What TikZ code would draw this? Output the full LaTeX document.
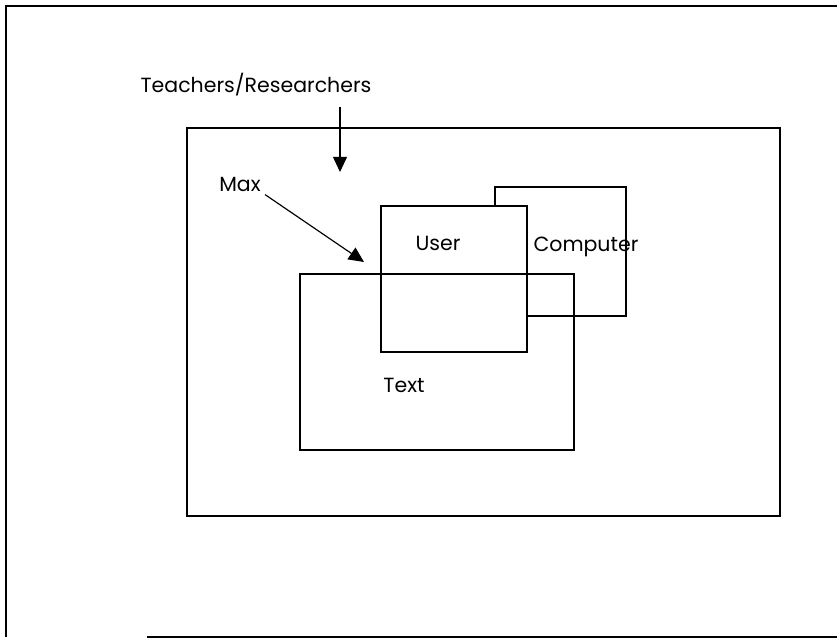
\documentclass[tikz,border=0pt]{standalone}
\usepackage{fontspec}
\setmainfont{Poppins}
\usetikzlibrary{arrows.meta}

\begin{document}
\begin{tikzpicture}[x=0.03cm,y=-0.03cm,
    box/.style={draw,line width=0.9pt},
    lbl/.style={font=\fontsize{17.5}{20}\selectfont,inner sep=1pt},
    arr/.style={line width=1pt,-{Triangle[width=12pt,length=13pt]}}]
    \useasboundingbox (0,0) rectangle (837,639);

    % outer frame
    \draw[line width=1.3pt] (837,6) -- (6,6) -- (6,637);
    \draw[line width=1.3pt] (147,637) -- (837,637);

    % boxes
    \draw[box] (187,128) rectangle (780,516);
    \draw[box] (495,187) rectangle (626,316);
    \draw[box,fill=white] (381,206) rectangle (527,352);
    \draw[box] (300,274) rectangle (574,450);

    % labels
    \node[lbl] (teach) at (256,85) {Teachers/Researchers};
    \node[lbl] (max) at (240,184) {Max};
    \node[lbl] (user) at (438,243) {User};
    \node[lbl] (comp) at (586,247) {Computer};
    \node[lbl] (text) at (404,385) {Text};

    % arrows
    \coordinate (teachtip) at (340,172);
    \coordinate (maxtip) at (364,262);
    \draw[arr] (teach.south -| teachtip) ++(0,9) -- (teachtip);
    \draw[arr] (max.south east) ++(3,2) -- (maxtip);
\end{tikzpicture}
\end{document}
